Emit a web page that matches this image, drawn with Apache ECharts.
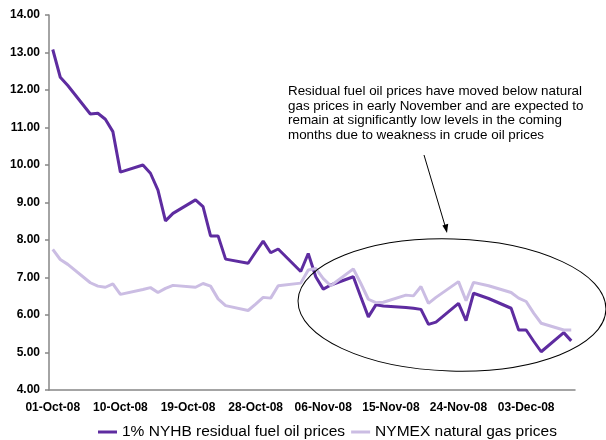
<!DOCTYPE html>
<html>
<head>
<meta charset="utf-8">
<script src="https://cdn.jsdelivr.net/npm/echarts@6/dist/echarts.min.js"></script>
<style>
  html, body { margin: 0; padding: 0; background: #fff; }
  #chart { width: 606px; height: 440px; }
</style>
</head>
<body>
<div id="chart"></div>
<script>
// Trading days (weekends and the Thanksgiving holiday have no quotes)
const tradeDays = [
  '01-Oct-08','02-Oct-08','03-Oct-08','06-Oct-08','07-Oct-08','08-Oct-08','09-Oct-08','10-Oct-08',
  '13-Oct-08','14-Oct-08','15-Oct-08','16-Oct-08','17-Oct-08',
  '20-Oct-08','21-Oct-08','22-Oct-08','23-Oct-08','24-Oct-08',
  '27-Oct-08','28-Oct-08','29-Oct-08','30-Oct-08','31-Oct-08',
  '03-Nov-08','04-Nov-08','05-Nov-08','06-Nov-08','07-Nov-08',
  '10-Nov-08','11-Nov-08','12-Nov-08','13-Nov-08','14-Nov-08',
  '17-Nov-08','18-Nov-08','19-Nov-08','20-Nov-08','21-Nov-08',
  '24-Nov-08','25-Nov-08','26-Nov-08','28-Nov-08',
  '01-Dec-08','02-Dec-08','03-Dec-08','04-Dec-08','05-Dec-08',
  '08-Dec-08','09-Dec-08'
];

// 1% NYHB residual fuel oil, $/MMBtu
const fuelOil = [
  13.08, 12.34, 12.12, 11.36, 11.38, 11.22, 10.89, 9.81,
  10.00, 9.78, 9.33, 8.51, 8.71,
  9.07, 8.89, 8.11, 8.11, 7.49,
  7.38, 7.68, 7.97, 7.66, 7.76,
  7.16, 7.64, 7.02, 6.69, 6.80,
  7.02, 6.48, 5.95, 6.27, 6.24,
  6.20, 6.18, 6.15, 5.75, 5.81,
  6.31, 5.85, 6.58, 6.44,
  6.18, 5.60, 5.60, 5.30, 5.02,
  5.53, 5.31
];

// NYMEX natural gas, $/MMBtu
const natGas = [
  7.75, 7.48, 7.35, 6.86, 6.77, 6.74, 6.83, 6.55,
  6.68, 6.73, 6.60, 6.71, 6.79,
  6.74, 6.84, 6.77, 6.43, 6.25,
  6.12, 6.29, 6.47, 6.45, 6.78,
  6.85, 7.20, 7.24, 6.97, 6.78,
  7.23, 6.84, 6.42, 6.33, 6.34,
  6.53, 6.51, 6.76, 6.31, 6.47,
  6.89, 6.38, 6.87, 6.78,
  6.60, 6.45, 6.36, 6.05, 5.78,
  5.60, 5.60
];

const yTicks = [4, 5, 6, 7, 8, 9, 10, 11, 12, 13, 14];

const seriesNames = ['1% NYHB residual fuel oil prices', 'NYMEX natural gas prices'];

// Calendar-day axis: one slot per day from 01-Oct-08 to 09-Dec-08
const MONTHS = ['Jan','Feb','Mar','Apr','May','Jun','Jul','Aug','Sep','Oct','Nov','Dec'];
const calendarDays = [];
for (let d = new Date(Date.UTC(2008, 9, 1)); d <= new Date(Date.UTC(2008, 11, 9)); d.setUTCDate(d.getUTCDate() + 1)) {
  const dd = String(d.getUTCDate()).padStart(2, '0');
  calendarDays.push(dd + '-' + MONTHS[d.getUTCMonth()] + '-08');
}

function onCalendar(values) {
  const byDay = {};
  tradeDays.forEach((day, k) => { byDay[day] = values[k]; });
  return calendarDays.map(day => (day in byDay ? byDay[day] : null));
}

const axisGrey = '#868686';
const font = 'Liberation Sans, Arial, sans-serif';

const chart = echarts.init(document.getElementById('chart'), null, { renderer: 'canvas' });

chart.setOption({
  animation: false,
  backgroundColor: '#fff',
  grid: { left: 49, right: 31, top: 15, bottom: 50, containLabel: false },
  legend: {
    left: 93,
    top: 419,
    itemWidth: 19,
    itemHeight: 3,
    itemGap: 6,
    textStyle: { fontFamily: font, fontSize: 15.5, color: '#000' },
    data: seriesNames.map(n => ({ name: n, icon: 'rect' }))
  },
  xAxis: {
    type: 'category',
    data: calendarDays,
    boundaryGap: true,
    axisLine: { lineStyle: { color: axisGrey, width: 1.5 } },
    axisTick: { interval: 8, length: 5, lineStyle: { color: axisGrey, width: 1.5 } },
    axisLabel: {
      interval: 8,
      margin: 12,
      fontFamily: font,
      fontSize: 12,
      fontWeight: 'bold',
      color: '#000'
    },
    splitLine: { show: false }
  },
  yAxis: {
    type: 'value',
    min: yTicks[0],
    max: yTicks[yTicks.length - 1],
    interval: 1,
    axisLine: { show: true, lineStyle: { color: axisGrey, width: 1.5 } },
    axisTick: { show: true, length: 4, lineStyle: { color: axisGrey, width: 1.5 } },
    axisLabel: {
      margin: 9,
      fontFamily: font,
      fontSize: 12,
      fontWeight: 'bold',
      color: '#000',
      formatter: v => v.toFixed(2)
    },
    splitLine: { show: false }
  },
  series: [
    {
      name: seriesNames[0],
      type: 'line',
      data: onCalendar(fuelOil),
      connectNulls: true,
      showSymbol: false,
      symbol: 'none',
      color: '#5e2ca0',
      lineStyle: { width: 3, color: '#5e2ca0' },
      z: 2
    },
    {
      name: seriesNames[1],
      type: 'line',
      data: onCalendar(natGas),
      connectNulls: true,
      showSymbol: false,
      symbol: 'none',
      color: '#cbbde3',
      lineStyle: { width: 3, color: '#cbbde3' },
      z: 3
    }
  ],
  graphic: [
    {
      type: 'text',
      left: 288,
      top: 84,
      style: {
        text: 'Residual fuel oil prices have moved below natural\n' +
              'gas prices in early November and are expected to\n' +
              'remain at significantly low levels in the coming\n' +
              'months due to weakness in crude oil prices',
        fontFamily: font,
        fontSize: 13.4,
        lineHeight: 14.6,
        fill: '#000'
      },
      z: 10
    },
    {
      type: 'ellipse',
      shape: { cx: 452, cy: 305, rx: 154, ry: 66 },
      originX: 452,
      originY: 305,
      rotation: -0.03,
      style: { fill: 'none', stroke: '#000', lineWidth: 1 },
      z: 10
    },
    {
      type: 'line',
      shape: { x1: 424, y1: 155, x2: 446, y2: 229 },
      style: { stroke: '#000', lineWidth: 1 },
      z: 10
    },
    {
      type: 'polygon',
      shape: { points: [[447, 233], [442.4, 225.5], [448.2, 223.8]] },
      style: { fill: '#000' },
      z: 10
    }
  ]
});
</script>
</body>
</html>
